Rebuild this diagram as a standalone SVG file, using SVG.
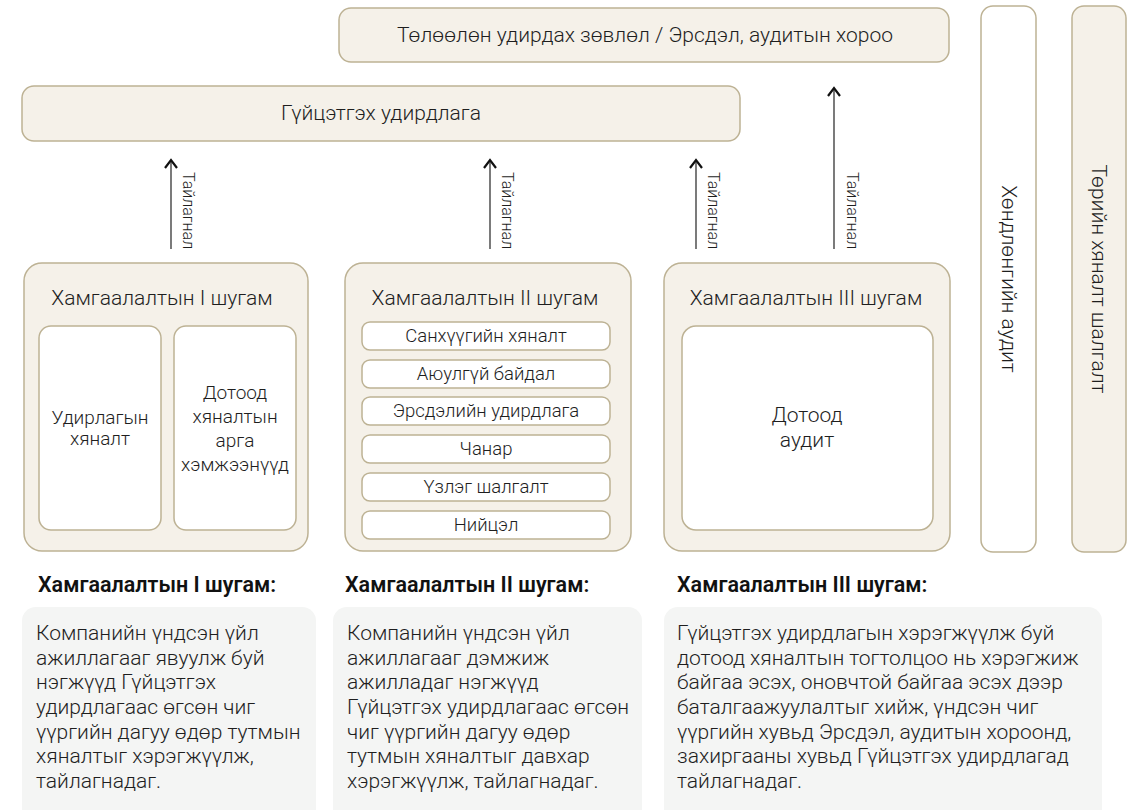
<svg xmlns="http://www.w3.org/2000/svg" width="1141" height="810" viewBox="0 0 1141 810">
<style>
.b{fill:#f5f1e9;stroke:#bdb294;stroke-width:1.5}
.w{fill:#ffffff;stroke:#bdb294;stroke-width:1.5}
.g{fill:#f4f5f4;stroke:none}
text{font-family:Roboto,"Noto Sans",sans-serif;font-weight:300;fill:#1e1e1e}
.t{font-size:21px;text-anchor:middle}
.s{font-size:18.5px;text-anchor:middle}
.i{font-size:19px;text-anchor:middle}
.l{font-size:16px}
.h{font-size:21.5px;font-weight:600;fill:#111}
.p{font-size:21px}
.ln{stroke:#222;stroke-width:1.2;fill:none}
.ah{stroke:#111;stroke-width:2.2;fill:none}
</style>
<g id="board"><rect class="b" x="339" y="8" width="610" height="54" rx="12"/><text class="t" x="645" y="42">Төлөөлөн удирдах зөвлөл / Эрсдэл, аудитын хороо</text></g>
<g id="exec"><rect class="b" x="22" y="86" width="718" height="55" rx="12"/><text class="t" x="381" y="120">Гүйцэтгэх удирдлага</text></g>
<g id="external"><rect class="w" x="981" y="6" width="55" height="546" rx="12"/><text class="t" transform="translate(1002,279) rotate(90)" x="0" y="0">Хөндлөнгийн аудит</text></g>
<g id="state"><rect class="b" x="1072" y="6" width="54" height="546" rx="12"/><text class="t" transform="translate(1092,279) rotate(90)" x="0" y="0">Төрийн хяналт шалгалт</text></g>
<g id="connectors">
<line class="ln" x1="171" y1="249" x2="171" y2="161"/><path class="ah" d="M165,168 L171,160 L177,168"/>
<line class="ln" x1="490" y1="249" x2="490" y2="161"/><path class="ah" d="M484,168 L490,160 L496,168"/>
<line class="ln" x1="696" y1="249" x2="696" y2="161"/><path class="ah" d="M690,168 L696,160 L702,168"/>
<line class="ln" x1="834" y1="249" x2="834" y2="89"/><path class="ah" d="M828,96 L834,88 L840,96"/>
<text class="l" transform="translate(183,172) rotate(90)">Тайлагнал</text>
<text class="l" transform="translate(502,172) rotate(90)">Тайлагнал</text>
<text class="l" transform="translate(708,172) rotate(90)">Тайлагнал</text>
<text class="l" transform="translate(847,172) rotate(90)">Тайлагнал</text>
</g>
<g id="line1"><rect class="b" x="24" y="263" width="284" height="288" rx="18"/><text class="t" x="162" y="305">Хамгаалалтын I шугам</text>
<rect class="w" x="39" y="326" width="122" height="204" rx="12"/><text class="i" x="100" y="424">Удирлагын</text><text class="i" x="100" y="445">хяналт</text>
<rect class="w" x="174" y="326" width="122" height="204" rx="12"/><text class="i" x="235" y="399">Дотоод</text><text class="i" x="235" y="423">хяналтын</text><text class="i" x="235" y="447">арга</text><text class="i" x="235" y="471">хэмжээнүүд</text>
</g>
<g id="line2"><rect class="b" x="345" y="263" width="286" height="288" rx="18"/><text class="t" x="485" y="305">Хамгаалалтын II шугам</text>
<rect class="w" x="362" y="322" width="248" height="28" rx="8"/><text class="s" x="486" y="342">Санхүүгийн хяналт</text>
<rect class="w" x="362" y="360" width="248" height="28" rx="8"/><text class="s" x="486" y="380">Аюулгүй байдал</text>
<rect class="w" x="362" y="397" width="248" height="28" rx="8"/><text class="s" x="486" y="417">Эрсдэлийн удирдлага</text>
<rect class="w" x="362" y="435" width="248" height="28" rx="8"/><text class="s" x="486" y="455">Чанар</text>
<rect class="w" x="362" y="473" width="248" height="28" rx="8"/><text class="s" x="486" y="493">Үзлэг шалгалт</text>
<rect class="w" x="362" y="511" width="248" height="28" rx="8"/><text class="s" x="486" y="531">Нийцэл</text>
</g>
<g id="line3"><rect class="b" x="664" y="263" width="286" height="288" rx="18"/><text class="t" x="806" y="305">Хамгаалалтын III шугам</text>
<rect class="w" x="682" y="326" width="251" height="204" rx="14"/><text class="t" x="807" y="422">Дотоод</text><text class="t" x="807" y="447">аудит</text>
</g>
<g id="desc1"><text class="h" x="38" y="592">Хамгаалалтын I шугам:</text><rect class="g" x="22" y="607" width="294" height="230" rx="14"/>
<text class="p" x="36" y="640">Компанийн үндсэн үйл</text><text class="p" x="36" y="665">ажиллагааг явуулж буй</text><text class="p" x="36" y="689">нэгжүүд Гүйцэтгэх</text><text class="p" x="36" y="714">удирдлагаас өгсөн чиг</text><text class="p" x="36" y="739">үүргийн дагуу өдөр тутмын</text><text class="p" x="36" y="763">хяналтыг хэрэгжүүлж,</text><text class="p" x="36" y="788">тайлагнадаг.</text></g>
<g id="desc2"><text class="h" x="345" y="592">Хамгаалалтын II шугам:</text><rect class="g" x="333" y="607" width="309" height="230" rx="14"/>
<text class="p" x="347" y="640">Компанийн үндсэн үйл</text><text class="p" x="347" y="665">ажиллагааг дэмжиж</text><text class="p" x="347" y="689">ажилладаг нэгжүүд</text><text class="p" x="347" y="714">Гүйцэтгэх удирдлагаас өгсөн</text><text class="p" x="347" y="739">чиг үүргийн дагуу өдөр</text><text class="p" x="347" y="763">тутмын хяналтыг давхар</text><text class="p" x="347" y="788">хэрэгжүүлж, тайлагнадаг.</text></g>
<g id="desc3"><text class="h" x="677" y="592">Хамгаалалтын III шугам:</text><rect class="g" x="664" y="607" width="438" height="230" rx="14"/>
<text class="p" x="677" y="640">Гүйцэтгэх удирдлагын хэрэгжүүлж буй</text><text class="p" x="677" y="665">дотоод хяналтын тогтолцоо нь хэрэгжиж</text><text class="p" x="677" y="689">байгаа эсэх, оновчтой байгаа эсэх дээр</text><text class="p" x="677" y="714">баталгаажуулалтыг хийж, үндсэн чиг</text><text class="p" x="677" y="739">үүргийн хувьд Эрсдэл, аудитын хороонд,</text><text class="p" x="677" y="763">захиргааны хувьд Гүйцэтгэх удирдлагад</text><text class="p" x="677" y="788">тайлагнадаг.</text></g>
</svg>
